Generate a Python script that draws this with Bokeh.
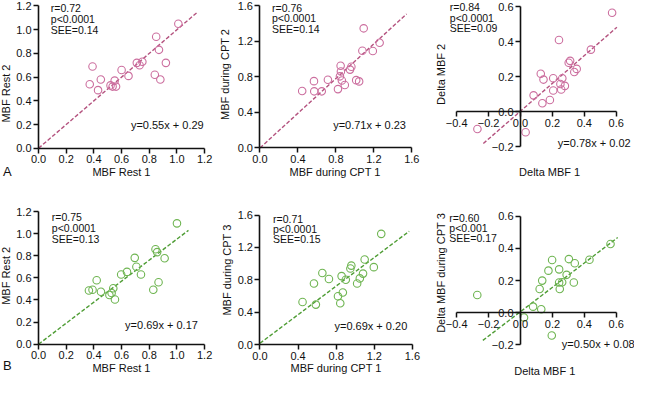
import math
from bokeh.plotting import figure
from bokeh.models import Label, LinearAxis, FixedTicker, Range1d
from bokeh.layouts import column, row
from bokeh.embed import file_html
from bokeh.resources import INLINE

FONT = "Liberation Sans"
PINK_PT = "#cc6f9f"
PINK_LN = "#b4537f"
GREEN_PT = "#6fb552"
GREEN_LN = "#4f9d35"
INK = "#111111"

# ---------------- data ----------------
# Panel A1: MBF Rest 1 vs Rest 2
a1_x = [0.37, 0.39, 0.43, 0.45, 0.52, 0.535, 0.55, 0.56, 0.60, 0.65, 0.71, 0.73, 0.75, 0.84, 0.85, 0.87, 0.88, 0.92, 1.01]
a1_y = [0.54, 0.69, 0.49, 0.58, 0.53, 0.52, 0.57, 0.52, 0.66, 0.61, 0.72, 0.70, 0.73, 0.62, 0.94, 0.83, 0.58, 0.72, 1.05]
a1_line_x = [0.0, 1.15]
a1_line_y = [0.0, 1.15]
a1_stats = ["r=0.72", "p<0.0001", "SEE=0.14"]
a1_eq = "y=0.55x + 0.29"

# Panel A2: MBF during CPT 1 vs CPT 2
a2_x = [0.445, 0.569, 0.572, 0.651, 0.716, 0.822, 0.843, 0.850, 0.853, 0.863, 0.894, 0.949, 0.963, 1.014, 1.045, 1.079, 1.093, 1.189, 1.261]
a2_y = [0.641, 0.753, 0.638, 0.638, 0.768, 0.663, 0.807, 0.926, 0.861, 0.760, 0.710, 0.883, 0.915, 0.764, 0.750, 1.095, 1.348, 1.092, 1.186]
a2_line_x = [0.0, 1.545]
a2_line_y = [0.0, 1.51]
a2_stats = ["r=0.76", "p<0.0001", "SEE=0.14"]
a2_eq = "y=0.71x + 0.23"

# Panel A3: Delta MBF 1 vs Delta MBF 2
a3_x = [-0.270, 0.032, 0.082, 0.137, 0.127, 0.144, 0.184, 0.205, 0.205, 0.241, 0.250, 0.255, 0.262, 0.278, 0.302, 0.311, 0.337, 0.352, 0.441, 0.574]
a3_y = [-0.097, -0.116, 0.095, 0.050, 0.218, 0.185, 0.068, 0.193, 0.123, 0.411, 0.160, 0.128, 0.193, 0.149, 0.281, 0.292, 0.228, 0.246, 0.356, 0.567]
a3_line_x = [-0.233, 0.604]
a3_line_y = [-0.18, 0.484]
a3_stats = ["r=0.84", "p<0.0001", "SEE=0.09"]
a3_eq = "y=0.78x + 0.02"

# Panel B1: MBF Rest 1 vs Rest 2
b1_x = [0.364, 0.390, 0.420, 0.451, 0.512, 0.528, 0.540, 0.552, 0.597, 0.639, 0.695, 0.707, 0.740, 0.829, 0.845, 0.857, 0.867, 0.911, 1.000]
b1_y = [0.486, 0.492, 0.578, 0.474, 0.445, 0.463, 0.506, 0.405, 0.630, 0.654, 0.781, 0.700, 0.630, 0.492, 0.859, 0.833, 0.561, 0.778, 1.093]
b1_line_x = [0.0, 1.083]
b1_line_y = [0.0, 1.03]
b1_stats = ["r=0.75", "p<0.0001", "SEE=0.13"]
b1_eq = "y=0.69x + 0.17"

# Panel B2: MBF during CPT 1 vs CPT 3
b2_x = [0.447, 0.567, 0.587, 0.655, 0.724, 0.819, 0.843, 0.857, 0.870, 0.901, 0.949, 0.959, 1.020, 1.048, 1.082, 1.099, 1.195, 1.273]
b2_y = [0.526, 0.755, 0.494, 0.885, 0.810, 0.597, 0.510, 0.846, 0.644, 0.802, 0.941, 0.976, 0.755, 0.818, 0.877, 1.051, 0.957, 1.368]
b2_line_x = [0.0, 1.566]
b2_line_y = [0.016, 1.40]
b2_stats = ["r=0.71", "p<0.0001", "SEE=0.15"]
b2_eq = "y=0.69x + 0.20"

# Panel B3: Delta MBF 1 vs Delta MBF during CPT 3
b3_x = [-0.271, 0.022, 0.079, 0.130, 0.120, 0.136, 0.175, 0.198, 0.196, 0.242, 0.242, 0.246, 0.261, 0.289, 0.303, 0.340, 0.334, 0.432, 0.564]
b3_y = [0.110, -0.030, 0.038, 0.022, 0.148, 0.200, 0.262, 0.328, -0.142, 0.270, 0.188, 0.148, 0.190, 0.236, 0.334, 0.308, 0.188, 0.330, 0.428]
b3_line_x = [-0.236, 0.609]
b3_line_y = [-0.172, 0.468]
b3_stats = ["r=0.60", "p<0.001", "SEE=0.17"]
b3_eq = "y=0.50x + 0.08"

ticks_12 = [0.0, 0.2, 0.4, 0.6, 0.8, 1.0, 1.2]
ticks_16 = [0.0, 0.4, 0.8, 1.2, 1.6]
ticks_dx = [-0.4, -0.2, 0.0, 0.2, 0.4, 0.6]
ticks_dy = [-0.2, 0.0, 0.2, 0.4, 0.6]


def fmt(t):
    return ("%.1f" % t).replace("-", "\u2212")


# ---------------- layout helpers ----------------
SX = 634 / 650
SY = 377 / 393


def X(v):
    return int(round(v * SX))


def Y(v):
    return int(round(v * SY))


TXT = "11px"
STAT = "10.5px"


def make_axis(ticks, bounds):
    ax = LinearAxis(fixed_location=0, bounds=bounds)
    ax.ticker = FixedTicker(ticks=ticks)
    ax.major_label_overrides = {t: fmt(t) for t in ticks}
    ax.axis_line_color = INK
    ax.axis_line_width = 1.6
    ax.major_tick_line_color = INK
    ax.major_tick_line_width = 1.5
    ax.major_tick_out = 5
    ax.major_tick_in = 0
    ax.minor_tick_line_color = None
    ax.major_label_text_font = FONT
    ax.major_label_text_font_size = TXT
    ax.major_label_text_color = INK
    ax.major_label_standoff = 2
    return ax


def panel(cell, frame, xr, yr, xticks, yticks, xlab, ylab, xlab_pos, ylab_pos,
          px, py, lx, ly, stats, eq, stats_x, stats_y, eq_x, eq_y, pt, ln,
          tag=None, tag_pos=None):
    c0, r0, c1, r1 = cell
    fl, ft, fr, fb = frame
    W = X(c1) - X(c0)
    H = Y(r1) - Y(r0)
    L = fl * SX - X(c0)
    R = fr * SX - X(c0)
    T = ft * SY - Y(r0)
    B = fb * SY - Y(r0)
    kx = (xr[1] - xr[0]) / (R - L)
    ky = (yr[1] - yr[0]) / (B - T)

    def dx(ox):
        return xr[0] + (ox * SX - X(c0) - L) * kx

    def dy(oy):
        return yr[0] + (B - (oy * SY - Y(r0))) * ky

    p = figure(width=W, height=H,
               x_range=Range1d(xr[0] - L * kx, xr[1] + (W - R) * kx),
               y_range=Range1d(yr[0] - (H - B) * ky, yr[1] + T * ky),
               output_backend="svg", toolbar_location=None,
               x_axis_location=None, y_axis_location=None,
               min_border=0, min_border_left=0, min_border_right=0,
               min_border_top=0, min_border_bottom=0)
    p.xgrid.visible = False
    p.ygrid.visible = False
    p.outline_line_color = None
    p.background_fill_color = "white"
    p.border_fill_color = "white"
    p.add_layout(make_axis(xticks, (xticks[0], xticks[-1])), "below")
    p.add_layout(make_axis(yticks, (yticks[0], yticks[-1])), "left")

    p.line(lx, ly, line_color=ln, line_width=1.4, line_dash="4 2")
    p.scatter(px, py, marker="circle", size=7.5, fill_color=None,
              line_color=pt, line_width=1.1)
    for s, yy in zip(stats, stats_y):
        p.add_layout(Label(x=stats_x, y=yy, text=s, text_font=FONT,
                           text_font_size=STAT, text_color=INK,
                           text_baseline="middle", text_align="left"))
    p.add_layout(Label(x=eq_x, y=eq_y, text=eq, text_font=FONT,
                       text_font_size=TXT, text_color=INK,
                       text_baseline="middle", text_align="right"))
    p.add_layout(Label(x=dx(xlab_pos[0]), y=dy(xlab_pos[1]), text=xlab,
                       text_font=FONT, text_font_size=TXT, text_color=INK,
                       text_baseline="middle", text_align="center"))
    p.add_layout(Label(x=dx(ylab_pos[0]), y=dy(ylab_pos[1]), text=ylab,
                       text_font=FONT, text_font_size=TXT, text_color=INK,
                       text_baseline="middle", text_align="center",
                       angle=math.pi / 2))
    if tag:
        p.add_layout(Label(x=dx(tag_pos[0]), y=dy(tag_pos[1]), text=tag,
                           text_font=FONT, text_font_size="13px",
                           text_color=INK, text_baseline="middle",
                           text_align="center"))
    return p


COLS = [(0, 222), (222, 440), (440, 650)]
ROWS = [(0, 195), (195, 393)]


def cell(ci, ri):
    return (COLS[ci][0], ROWS[ri][0], COLS[ci][1], ROWS[ri][1])


pa1 = panel(cell(0, 0), (39, 5.7, 209.3, 154), (0, 1.2), (0, 1.2), ticks_12, ticks_12,
            "MBF Rest 1", "MBF Rest 2", (124, 178.3), (6, 97),
            a1_x, a1_y, a1_line_x, a1_line_y,
            a1_stats, a1_eq, 0.089, [1.187, 1.092, 0.998], 1.193, 0.194,
            PINK_PT, PINK_LN, tag="A", tag_pos=(7, 178))
pa2 = panel(cell(1, 0), (266, 5.7, 421.7, 153.7), (0, 1.6), (0, 1.6), ticks_16, ticks_16,
            "MBF during CPT 1", "MBF during CPT 2", (343, 178.3), (230, 77),
            a2_x, a2_y, a2_line_x, a2_line_y,
            a2_stats, a2_eq, 0.127, [1.582, 1.463, 1.344], 1.538, 0.256,
            PINK_PT, PINK_LN)
pa3 = panel(cell(2, 0), (467.7, 6.7, 631.3, 152.7), (-0.4, 0.6), (-0.2, 0.6), ticks_dx, ticks_dy,
            "Delta MBF 1", "Delta MBF 2", (563, 178.3), (452, 77),
            a3_x, a3_y, a3_line_x, a3_line_y,
            a3_stats, a3_eq, -0.443, [0.600, 0.539, 0.477], 0.690, -0.176,
            PINK_PT, PINK_LN)
pb1 = panel(cell(0, 1), (39, 220, 209.3, 358.3), (0, 1.2), (0, 1.2), ticks_12, ticks_12,
            "MBF Rest 1", "MBF Rest 2", (124, 383), (6, 287),
            b1_x, b1_y, b1_line_x, b1_line_y,
            b1_stats, b1_eq, 0.096, [1.148, 1.050, 0.954], 1.151, 0.174,
            GREEN_PT, GREEN_LN, tag="B", tag_pos=(7, 381))
pb2 = panel(cell(1, 1), (266, 223.7, 422.3, 358.7), (0, 1.6), (0, 1.6), ticks_16, ticks_16,
            "MBF during CPT 1", "MBF during CPT 3", (344, 383), (232, 281),
            b2_x, b2_y, b2_line_x, b2_line_y,
            b2_stats, b2_eq, 0.137, [1.553, 1.427, 1.300], 1.546, 0.233,
            GREEN_PT, GREEN_LN)
pb3 = panel(cell(2, 1), (467.7, 225, 631.3, 359), (-0.4, 0.6), (-0.2, 0.6), ticks_dx, ticks_dy,
            "Delta MBF 1", "Delta MBF during CPT 3", (558, 386.5), (452, 284),
            b3_x, b3_y, b3_line_x, b3_line_y,
            b3_stats, b3_eq, -0.446, [0.590, 0.528, 0.464], 0.715, -0.196,
            GREEN_PT, GREEN_LN)

layout = column(row(pa1, pa2, pa3), row(pb1, pb2, pb3))

open("out.html", "w").write(file_html(layout, INLINE))
